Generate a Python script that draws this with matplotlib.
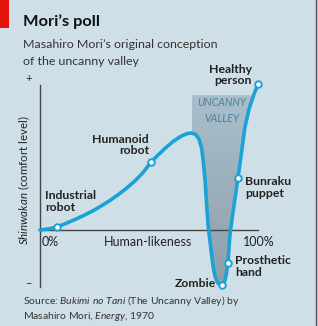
import numpy as np
import matplotlib
matplotlib.use("Agg")
import matplotlib.pyplot as plt
from matplotlib.patches import Polygon, Rectangle
from matplotlib.colors import LinearSegmentedColormap

plt.rcParams['font.family'] = ['Lato', 'DejaVu Sans']
plt.rcParams['mathtext.fontset'] = 'custom'
plt.rcParams['mathtext.rm'] = 'Lato'
plt.rcParams['mathtext.it'] = 'Lato:italic'

# --- data (human-likeness %, comfort level) ---
curve_x = [0, 4, 7.8, 12, 16, 20, 24, 28, 32, 36, 40, 44, 47.5, 50.9, 54, 57.5,
           61, 64.5, 67.5, 69.5, 71.5, 73.0, 74.2, 75.0, 75.7, 76.4, 77.1, 78.0,
           78.8, 79.6, 80.4, 81.3, 82.3, 83.5, 84.6, 85.4, 86.2, 87.2, 89.0,
           90.8, 92.4, 94.0, 96.0, 98.0, 100]
curve_y = [0, 0.8, 2.1, 4.6, 7.2, 10, 13, 16.5, 20.3, 24.5, 29.2, 34.5, 40, 46.9,
           51.5, 56.5, 61, 64.5, 66.5, 66.9, 65.8, 62.5, 56, 46, 34.5, 18, 3,
           -8, -18, -27, -32.5, -35.9, -37.6, -37.9, -36, -31, -22.8, -2, 17,
           35.9, 53, 71, 84, 93, 100.7]

points = {
    "Industrial robot": (7.8, 2.1),
    "Humanoid robot": (50.9, 46.9),
    "Zombie": (83.5, -37.9),
    "Prosthetic hand": (86.2, -22.8),
    "Bunraku puppet": (90.8, 35.9),
    "Healthy person": (100, 100.7),
}

valley_left = 69.7
valley_top = 93

BG = '#cfdfe8'
BLUE = '#1ba2d6'
TXT = '#222222'

W, H = 318, 326
fig = plt.figure(figsize=(W / 100, H / 100), dpi=100, facecolor=BG)

def px(x, y):
    return x / W, 1 - y / H

# axes: x 0..100 -> px 40..258 ; y -40..100 -> px 288..85
ax = fig.add_axes([40 / W, 1 - 288 / H, 218 / W, (288 - 85) / H])
ax.set_xlim(0, 100)
ax.set_ylim(-40, 100)
ax.set_facecolor('none')
for s in ['top', 'right', 'bottom']:
    ax.spines[s].set_visible(False)
ax.spines['left'].set_color('#444444')
ax.spines['left'].set_linewidth(1.0)
ax.spines['left'].set_bounds(-39, 100)
ax.set_xticks([])
ax.set_yticks([])

# uncanny valley shading (polygon from curve)
cx = np.array(curve_x)
cy = np.array(curve_y)
poly = [(valley_left, valley_top), (valley_left, 66.8)]
for x, y in zip(cx, cy):
    if x > valley_left and y <= valley_top:
        poly.append((x, y))
poly.append((98.0, valley_top))
patch = Polygon(poly, closed=True, facecolor='none', edgecolor='none')
ax.add_patch(patch)
cmap = LinearSegmentedColormap.from_list('v', ['#a9bfcc', '#8d9ea9'])
grad = np.linspace(0, 1, 256).reshape(-1, 1)
im = ax.imshow(grad, cmap=cmap, extent=[valley_left, 100, -40, valley_top],
               aspect='auto', origin='upper', zorder=1)
im.set_clip_path(patch)

# x axis at zero
ax.plot([0, 100], [0, 0], color='#444444', lw=1.0, zorder=2, clip_on=False)

# curve
ax.plot(curve_x, curve_y, color=BLUE, lw=2.6, zorder=3, clip_on=False,
        solid_capstyle='round', solid_joinstyle='round')
mx = [p[0] for p in points.values()]
my = [p[1] for p in points.values()]
ax.scatter(mx, my, s=22, facecolor='white', edgecolor=BLUE, linewidth=1.4,
           zorder=4, clip_on=False)

lab = dict(fontsize=8.8, color=TXT, fontweight='bold', linespacing=1.05)
ax.text(97.2, 114.5, "Healthy\nperson", ha='right', va='top', multialignment='right', **lab)
ax.text(50, 66.5, "Humanoid\nrobot", ha='right', va='top', multialignment='right', **lab)
ax.text(2.3, 27.5, "Industrial\nrobot", ha='left', va='top', **lab)
ax.text(94, 37, "Bunraku\npuppet", ha='left', va='top', **lab)
ax.text(89.4, -17.5, "Prosthetic\nhand", ha='left', va='top', **lab)
ax.text(80.7, -36.6, "Zombie", ha='right', va='center', **lab)

ax.text(83.5, 87.6, "UNCANNY", ha='center', va='center', fontsize=7.6,
        style='italic', color='#4d809c', clip_on=False)
ax.text(83.5, 77.2, "VALLEY", ha='center', va='center', fontsize=7.6,
        style='italic', color='#4d809c', clip_on=False)

tick = dict(fontsize=9, color=TXT, va='center')
ax.text(0.9, -8.3, "0%", ha='left', **tick)
ax.text(49.5, -8.3, "Human-likeness", ha='center', **tick)
ax.text(100.3, -8.3, "100%", ha='center', **tick)

# plus / minus and y label
fig.text(*px(29, 79), "+", ha='center', va='center', fontsize=8, color=TXT)
fig.text(*px(29, 284), "\u2013", ha='center', va='center', fontsize=8, color=TXT)
fig.text(*px(24, 180), r"$\mathit{Shinwakan}$ (comfort level)", rotation=90,
         ha='center', va='center', fontsize=8.3, color=TXT)

# header
fig.patches.append(Rectangle((0, 1 - 28 / H), 9 / W, 28 / H, transform=fig.transFigure,
                             facecolor='#e3120b', edgecolor='none'))
fig.text(*px(23, 26), "Mori\u2019s poll", ha='left', va='baseline', fontsize=11.8,
         fontweight='bold', color='#111111')
fig.text(*px(23, 48), "Masahiro Mori\u2019s original conception", ha='left',
         va='baseline', fontsize=8.9, color='#333333')
fig.text(*px(23, 65), "of the uncanny valley", ha='left',
         va='baseline', fontsize=8.9, color='#333333')

# source
fig.text(*px(23, 304), r"Source: $\mathit{Bukimi\ no\ Tani}$ (The Uncanny Valley) by",
         ha='left', va='baseline', fontsize=7.5, color='#333333')
fig.text(*px(23, 319), r"Masahiro Mori, $\mathit{Energy}$, 1970",
         ha='left', va='baseline', fontsize=7.5, color='#333333')

# right border
fig.lines.append(plt.Line2D([315.5 / W, 315.5 / W], [0, 1], transform=fig.transFigure,
                            color='#555555', lw=1.0))

fig.savefig("out.png", dpi=100, facecolor=BG)
